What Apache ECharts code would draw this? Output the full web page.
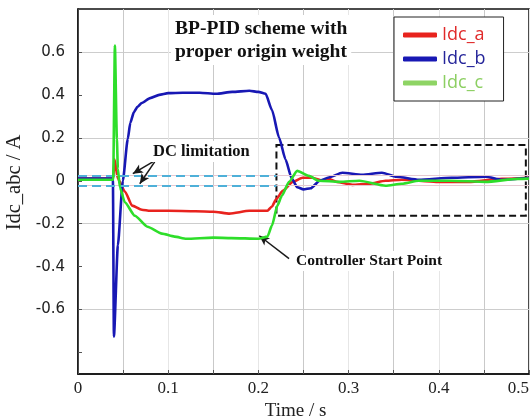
<!DOCTYPE html>
<html>
<head>
<meta charset="utf-8">
<script src="https://cdn.jsdelivr.net/npm/echarts@6/dist/echarts.min.js"></script>
<style>
html, body { margin: 0; padding: 0; background: #fff; }
#chart { width: 530px; height: 417px; }
</style>
</head>
<body>
<div id="chart"></div>
<script>
var chart = echarts.init(document.getElementById('chart'));

// Idc_a (red)
var timeA = [0, 0.039, 0.0405, 0.0442, 0.052, 0.06, 0.0707, 0.08, 0.1, 0.13, 0.15, 0.168, 0.19, 0.2, 0.21, 0.215, 0.22, 0.227, 0.238, 0.249, 0.26, 0.271, 0.278, 0.287, 0.304, 0.323, 0.341, 0.359, 0.397, 0.433, 0.47, 0.5];
var idcA = [0.01, 0.01, 0.1, 0.009, -0.05, -0.116, -0.135, -0.14, -0.14, -0.142, -0.144, -0.153, -0.14, -0.14, -0.14, -0.12, -0.084, -0.047, -0.005, 0.014, 0.014, 0.0, 0.009, -0.005, -0.019, -0.014, 0.0, 0.005, -0.005, -0.005, 0.009, 0.014];

// Idc_b (blue)
var timeB = [0, 0.0387, 0.0398, 0.0442, 0.0497, 0.0552, 0.058, 0.062, 0.066, 0.0707, 0.08, 0.09, 0.1, 0.116, 0.135, 0.153, 0.171, 0.19, 0.2, 0.208, 0.215, 0.223, 0.23, 0.237, 0.243, 0.25, 0.258, 0.268, 0.278, 0.293, 0.315, 0.337, 0.353, 0.378, 0.414, 0.452, 0.47, 0.5];
var idcB = [0.01, 0.01, -0.726, -0.3, 0.0, 0.195, 0.27, 0.32, 0.345, 0.362, 0.385, 0.4, 0.408, 0.41, 0.41, 0.405, 0.414, 0.419, 0.414, 0.405, 0.33, 0.2, 0.1, 0.01, -0.03, -0.04, -0.035, 0.0, 0.015, 0.037, 0.028, 0.037, 0.019, 0.005, 0.014, 0.019, 0.005, 0.014];

// Idc_c (green)
var timeC = [0, 0.039, 0.0409, 0.0431, 0.0442, 0.0464, 0.0519, 0.063, 0.077, 0.093, 0.107, 0.12, 0.15, 0.17, 0.2, 0.21, 0.215, 0.221, 0.226, 0.234, 0.243, 0.256, 0.267, 0.29, 0.312, 0.341, 0.359, 0.378, 0.414, 0.452, 0.488, 0.5];
var idcC = [0.005, 0.005, 0.63, 0.195, 0.056, -0.03, -0.1, -0.163, -0.214, -0.246, -0.26, -0.27, -0.265, -0.267, -0.27, -0.26, -0.209, -0.116, -0.07, -0.005, 0.046, 0.023, 0.0, -0.005, 0.0, -0.023, -0.014, 0.0, 0.0, -0.005, 0.009, 0.01];

var names = ['Idc_a', 'Idc_b', 'Idc_c'];
var colors = ['#e8231e', '#1818b4', '#2ede2a'];
var textColors = ['#e02a2a', '#25259a', '#8ccf62'];

// DC limitation levels and the zoom box
var dcLimits = [0.024, -0.022];
var dcEnd = 0.22;
var boxCorners = [[0.22, 0.167], [0.4965, -0.163]];

function zip(t, v) {
    var out = [];
    for (var i = 0; i < t.length; i++) out.push([t[i], v[i]]);
    return out;
}

var serif = 'Liberation Serif';

var dcLines = [];
dcLimits.forEach(function (d) {
    dcLines.push([{ coord: [0, d], lineStyle: { color: '#e6c9d2', width: 1, type: 'solid' } }, { coord: [0.5, d] }]);
});
dcLimits.forEach(function (d) {
    dcLines.push([{ coord: [0, d], lineStyle: { color: '#4fb0d8', width: 2, type: [9, 5] } }, { coord: [dcEnd, d] }]);
});

var arrows = [
    [{ coord: [0.0829, 0.088] }, { coord: [0.0608, 0.033] }],
    [{ coord: [0.085, 0.088] }, { coord: [0.0685, -0.014] }],
    [{ coord: [0.234, -0.363] }, { coord: [0.201, -0.256] }]
];

var series = names.map(function (n, i) {
    var data = [zip(timeA, idcA), zip(timeB, idcB), zip(timeC, idcC)][i];
    return {
        name: n,
        type: 'line',
        data: data,
        showSymbol: false,
        smooth: 0.2,
        smoothMonotone: 'x',
        lineStyle: { color: colors[i], width: 2.6 },
        itemStyle: { color: colors[i] },
        z: 3 + i
    };
});

series.unshift({
    name: 'annot',
    type: 'line',
    data: [],
    silent: true,
    markLine: {
        silent: true,
        symbol: ['none', 'none'],
        label: { show: false },
        animation: false,
        data: dcLines
    },
    markArea: {
        silent: true,
        itemStyle: { color: 'rgba(0,0,0,0)', borderColor: '#111', borderWidth: 2, borderType: [7, 4] },
        data: [[{ coord: boxCorners[0] }, { coord: boxCorners[1] }]]
    }
});

series.push({
    name: 'arrows',
    type: 'line',
    data: [],
    silent: true,
    z: 10,
    markLine: {
        silent: true,
        symbol: ['none', 'arrow'],
        symbolSize: [7, 10],
        label: { show: false },
        lineStyle: { color: '#1a1a1a', width: 1.5, type: 'solid' },
        animation: false,
        data: arrows
    }
});

var option = {
    animation: false,
    backgroundColor: '#fff',
    title: [{
        text: 'BP-PID scheme with\nproper origin weight',
        left: 171, top: 15,
        padding: [2, 4],
        backgroundColor: '#fff',
        textStyle: { fontFamily: serif, fontWeight: 'bold', fontSize: 19.5, lineHeight: 23, color: '#111' }
    }, {
        text: 'DC limitation',
        left: 150, top: 141,
        padding: [2, 3],
        backgroundColor: '#fff',
        textStyle: { fontFamily: serif, fontWeight: 'bold', fontSize: 16.5, color: '#111' }
    }, {
        text: 'Controller Start Point',
        left: 293, top: 251,
        padding: [2, 3],
        backgroundColor: '#fff',
        textStyle: { fontFamily: serif, fontWeight: 'bold', fontSize: 15.5, color: '#111' }
    }],
    legend: {
        orient: 'vertical',
        left: 394, top: 17,
        padding: [9, 18, 9, 9],
        itemGap: 6,
        itemWidth: 34, itemHeight: 5,
        itemTextGap: 13,
        icon: 'roundRect',
        backgroundColor: '#fff',
        borderColor: '#222',
        borderWidth: 1,
        textStyle: { fontFamily: 'Open Sans', fontSize: 18 },
        data: names.map(function (n, i) {
            return { name: n, textStyle: { color: textColors[i] }, itemStyle: { color: i == 2 ? '#8ed464' : colors[i] } };
        })
    },
    grid: {
        left: 78, top: 9, right: 1, bottom: 43,
        outerBoundsMode: 'none',
        containLabel: false,
        show: true,
        borderColor: '#111',
        borderWidth: 1.5
    },
    xAxis: {
        type: 'value',
        min: 0, max: 0.5, interval: 0.05,
        name: 'Time / s',
        nameLocation: 'middle',
        nameGap: 21,
        nameTextStyle: { fontFamily: serif, fontSize: 19, color: '#222', padding: [0, 16, 0, 0] },
        axisLine: { onZero: false, lineStyle: { color: '#111', width: 1.5 } },
        axisTick: { inside: true, length: 4, lineStyle: { color: '#555' } },
        axisLabel: {
            fontFamily: serif, fontSize: 17, color: '#222', margin: 6,
            alignMaxLabel: 'right',
            formatter: function (v) {
                var k = Math.round(v * 20);
                if (k % 2) return '';
                return k == 0 ? '0' : (k / 20).toFixed(1);
            }
        },
        splitLine: { show: true, lineStyle: { color: ['#e6e6e6', '#c9c9c9'], width: 1 } }
    },
    yAxis: {
        type: 'value',
        min: -0.9, max: 0.8, interval: 0.1,
        name: 'Idc_abc / A',
        nameLocation: 'middle',
        nameGap: 47,
        nameTextStyle: { fontFamily: serif, fontSize: 20.5, color: '#222', padding: [0, 0, 0, 18] },
        axisLine: { lineStyle: { color: '#111', width: 1.5 } },
        axisTick: { show: true, inside: true, length: 4, lineStyle: { color: '#555' }, customValues: [-0.8, -0.6, -0.4, -0.2, 0, 0.2, 0.4, 0.6] },
        axisLabel: {
            fontFamily: 'DejaVu Sans', fontSize: 15, color: '#222', margin: 13,
            formatter: function (v) {
                var k = Math.round(v * 10);
                if (k % 2 || Math.abs(k) > 6) return '';
                return k == 0 ? '0' : (k / 10).toFixed(1);
            }
        },
        splitLine: { show: true, lineStyle: { color: ['rgba(0,0,0,0)', '#cdcdcd'], width: 1 } }
    },
    series: series
};

chart.setOption(option);
</script>
</body>
</html>
